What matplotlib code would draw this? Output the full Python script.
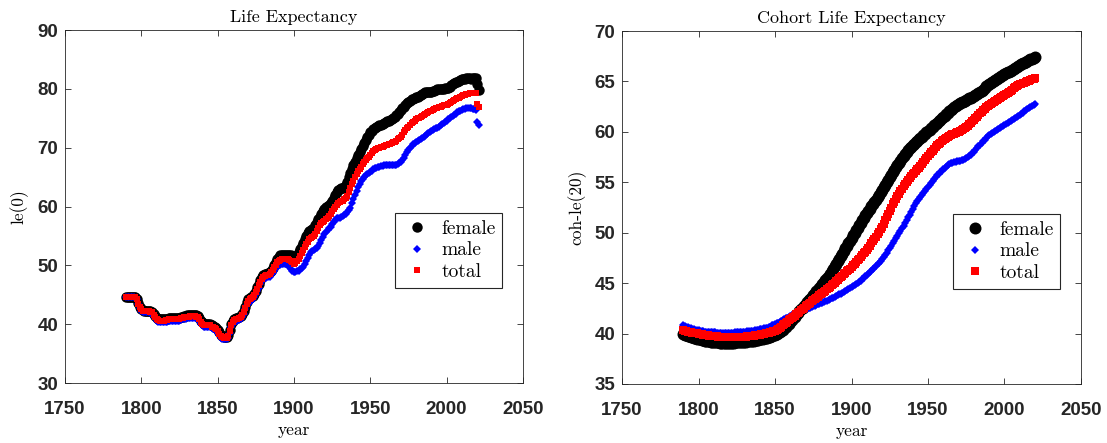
import numpy as np
import matplotlib
matplotlib.use("Agg")
import matplotlib.pyplot as plt

# period life expectancy at birth, yearly 1790-2021
years_le = np.arange(1790, 2022)
le_female = [
    44.7, 44.7, 44.7, 44.7, 44.7, 44.7, 44.6, 44.3, 43.6, 43.0,
    42.6, 42.4, 42.3, 42.3, 42.3, 42.3, 42.2, 42.1, 41.8, 41.4,
    41.0, 40.9, 40.8, 40.8, 40.8, 40.8, 40.9, 40.9, 41.0, 41.0,
    41.0, 41.0, 41.1, 41.1, 41.1, 41.1, 41.2, 41.3, 41.4, 41.4,
    41.5, 41.5, 41.6, 41.6, 41.6, 41.6, 41.5, 41.4, 41.0, 40.6,
    40.3, 40.1, 40.0, 40.0, 40.0, 40.0, 39.8, 39.7, 39.5, 39.3,
    39.0, 38.6, 38.2, 38.0, 37.9, 37.9, 37.9, 38.2, 39.0, 40.0,
    40.6, 40.9, 41.0, 41.1, 41.2, 41.4, 41.8, 42.3, 43.0, 43.8,
    44.3, 44.5, 44.6, 44.8, 45.2, 45.7, 46.3, 46.9, 47.5, 48.0,
    48.3, 48.5, 48.6, 48.7, 48.8, 49.1, 49.6, 50.1, 50.6, 51.1,
    51.5, 51.7, 51.8, 51.8, 51.8, 51.8, 51.8, 51.8, 51.7, 51.5,
    51.3, 51.4, 51.8, 52.3, 52.8, 53.3, 53.8, 54.4, 55.0, 55.5,
    55.8, 56.0, 56.2, 56.4, 56.8, 57.3, 57.8, 58.3, 58.8, 59.3,
    59.6, 59.9, 60.1, 60.3, 60.6, 61.0, 61.5, 62.0, 62.4, 62.8,
    63.0, 63.1, 63.2, 63.3, 63.6, 64.2, 65.0, 65.7, 66.4, 67.0,
    67.6, 68.2, 68.8, 69.3, 69.8, 70.3, 70.8, 71.3, 71.8, 72.2,
    72.6, 72.9, 73.2, 73.4, 73.5, 73.7, 73.8, 73.9, 74.0, 74.2,
    74.3, 74.5, 74.6, 74.7, 74.8, 75.0, 75.2, 75.5, 75.8, 76.1,
    76.4, 76.7, 77.0, 77.3, 77.6, 77.8, 78.0, 78.2, 78.3, 78.5,
    78.6, 78.7, 78.8, 79.0, 79.1, 79.3, 79.4, 79.5, 79.5, 79.5,
    79.5, 79.6, 79.7, 79.8, 79.9, 80.0, 80.0, 80.0, 80.0, 80.1,
    80.1, 80.2, 80.4, 80.6, 80.8, 81.0, 81.1, 81.2, 81.3, 81.5,
    81.6, 81.7, 81.7, 81.8, 81.8, 81.8, 81.7, 81.8, 81.9, 81.9,
    80.8, 79.8]
le_male = [
    44.6, 44.6, 44.6, 44.6, 44.6, 44.6, 44.5, 44.2, 43.4, 42.8,
    42.3, 42.1, 42.0, 42.0, 42.0, 42.0, 41.9, 41.8, 41.4, 41.0,
    40.5, 40.4, 40.3, 40.3, 40.3, 40.3, 40.4, 40.4, 40.5, 40.5,
    40.5, 40.5, 40.6, 40.6, 40.6, 40.6, 40.7, 40.8, 40.9, 40.9,
    41.0, 41.0, 41.1, 41.1, 41.1, 41.1, 41.0, 40.9, 40.5, 40.1,
    39.8, 39.6, 39.5, 39.5, 39.5, 39.5, 39.3, 39.2, 39.0, 38.8,
    38.5, 38.1, 37.7, 37.5, 37.4, 37.4, 37.4, 37.7, 38.5, 39.5,
    40.1, 40.4, 40.5, 40.6, 40.7, 40.9, 41.3, 41.8, 42.5, 43.2,
    43.6, 43.8, 44.0, 44.2, 44.6, 45.1, 45.6, 46.2, 46.8, 47.3,
    47.6, 47.8, 47.9, 48.0, 48.1, 48.4, 48.7, 49.1, 49.5, 49.8,
    50.0, 50.1, 50.2, 50.2, 50.2, 50.2, 50.0, 49.7, 49.3, 49.0,
    48.8, 48.8, 49.0, 49.1, 49.3, 49.5, 49.8, 50.3, 50.8, 51.3,
    51.8, 52.2, 52.5, 52.6, 52.8, 53.0, 53.3, 53.8, 54.3, 54.8,
    55.3, 55.7, 56.0, 56.3, 56.6, 57.0, 57.3, 57.7, 58.0, 58.0,
    58.0, 58.2, 58.4, 58.6, 58.8, 59.1, 59.4, 59.8, 60.6, 61.3,
    62.0, 62.7, 63.3, 63.8, 64.3, 64.7, 65.0, 65.3, 65.5, 65.7,
    65.9, 66.1, 66.3, 66.5, 66.6, 66.7, 66.8, 66.9, 66.9, 67.0,
    67.0, 67.0, 67.1, 67.1, 67.1, 67.1, 67.1, 67.1, 67.2, 67.4,
    67.6, 67.9, 68.3, 68.7, 69.2, 69.6, 70.0, 70.3, 70.6, 70.8,
    71.0, 71.2, 71.3, 71.5, 71.6, 71.8, 72.0, 72.3, 72.5, 72.7,
    72.8, 73.0, 73.1, 73.3, 73.4, 73.6, 73.8, 74.0, 74.2, 74.4,
    74.6, 74.8, 75.0, 75.2, 75.4, 75.6, 75.8, 76.0, 76.2, 76.3,
    76.4, 76.5, 76.6, 76.7, 76.8, 76.8, 76.7, 76.6, 76.5, 76.4,
    74.4, 73.9]
le_total = [
    44.7, 44.7, 44.7, 44.7, 44.7, 44.7, 44.6, 44.3, 43.5, 42.9,
    42.5, 42.3, 42.2, 42.2, 42.2, 42.2, 42.1, 42.0, 41.6, 41.2,
    40.8, 40.7, 40.6, 40.6, 40.6, 40.6, 40.7, 40.7, 40.8, 40.8,
    40.8, 40.8, 40.9, 40.9, 40.9, 40.9, 41.0, 41.1, 41.2, 41.2,
    41.3, 41.3, 41.4, 41.4, 41.4, 41.4, 41.3, 41.2, 40.8, 40.4,
    40.1, 39.9, 39.8, 39.8, 39.8, 39.8, 39.6, 39.5, 39.3, 39.1,
    38.8, 38.4, 38.0, 37.8, 37.7, 37.7, 37.7, 38.0, 38.8, 39.8,
    40.4, 40.7, 40.8, 40.9, 41.0, 41.2, 41.6, 42.1, 42.8, 43.5,
    44.0, 44.2, 44.4, 44.6, 45.0, 45.5, 46.0, 46.6, 47.2, 47.7,
    48.0, 48.2, 48.3, 48.4, 48.5, 48.8, 49.2, 49.7, 50.1, 50.5,
    50.8, 50.9, 51.0, 51.0, 51.0, 51.0, 51.0, 50.9, 50.8, 50.5,
    50.3, 50.4, 50.7, 51.1, 51.6, 52.1, 52.6, 53.1, 53.6, 54.0,
    54.4, 54.6, 54.8, 55.0, 55.4, 55.9, 56.4, 56.8, 57.2, 57.4,
    57.6, 57.8, 58.1, 58.4, 58.8, 59.2, 59.6, 60.0, 60.3, 60.6,
    60.8, 60.9, 61.0, 61.2, 61.4, 61.8, 62.4, 63.1, 63.8, 64.4,
    65.0, 65.5, 66.0, 66.4, 66.8, 67.2, 67.6, 67.9, 68.2, 68.5,
    68.8, 69.1, 69.4, 69.6, 69.7, 69.9, 70.0, 70.1, 70.2, 70.3,
    70.4, 70.5, 70.6, 70.7, 70.8, 70.9, 71.0, 71.2, 71.4, 71.6,
    71.9, 72.2, 72.6, 73.0, 73.3, 73.6, 73.9, 74.2, 74.4, 74.6,
    74.8, 75.0, 75.1, 75.3, 75.4, 75.6, 75.7, 75.9, 76.0, 76.2,
    76.3, 76.4, 76.5, 76.7, 76.8, 76.9, 77.0, 77.1, 77.2, 77.3,
    77.3, 77.5, 77.6, 77.8, 77.9, 78.1, 78.2, 78.4, 78.5, 78.7,
    78.8, 78.9, 79.0, 79.1, 79.2, 79.3, 79.3, 79.3, 79.3, 79.3,
    77.4, 77.0]

# cohort life expectancy at age 20, yearly 1790-2020
years_coh = np.arange(1790, 2021)
coh_female = [
    40.0, 39.9, 39.85, 39.8, 39.75, 39.7, 39.65, 39.6, 39.55, 39.5,
    39.5, 39.45, 39.4, 39.35, 39.3, 39.3, 39.25, 39.25, 39.2, 39.2,
    39.2, 39.15, 39.15, 39.15, 39.1, 39.1, 39.1, 39.1, 39.1, 39.1,
    39.1, 39.1, 39.1, 39.1, 39.15, 39.15, 39.15, 39.2, 39.2, 39.2,
    39.2, 39.2, 39.25, 39.25, 39.3, 39.3, 39.3, 39.35, 39.4, 39.4,
    39.45, 39.5, 39.5, 39.55, 39.6, 39.6, 39.65, 39.7, 39.8, 39.85,
    39.9, 40.0, 40.1, 40.2, 40.3, 40.4, 40.55, 40.7, 40.8, 40.95,
    41.1, 41.3, 41.5, 41.6, 41.8, 42.0, 42.2, 42.4, 42.55, 42.7,
    42.9, 43.1, 43.3, 43.4, 43.6, 43.8, 44.0, 44.2, 44.35, 44.5,
    44.7, 44.9, 45.1, 45.3, 45.5, 45.7, 45.9, 46.2, 46.4, 46.7,
    46.9, 47.2, 47.4, 47.7, 47.9, 48.2, 48.5, 48.7, 49.0, 49.2,
    49.5, 49.8, 50.0, 50.3, 50.5, 50.8, 51.0, 51.3, 51.5, 51.8,
    52.0, 52.2, 52.4, 52.6, 52.8, 53.0, 53.2, 53.5, 53.7, 54.0,
    54.2, 54.5, 54.7, 55.0, 55.2, 55.5, 55.7, 56.0, 56.2, 56.5,
    56.7, 56.9, 57.1, 57.4, 57.6, 57.8, 58.0, 58.2, 58.4, 58.5,
    58.7, 58.8, 59.0, 59.1, 59.3, 59.4, 59.5, 59.7, 59.8, 60.0,
    60.1, 60.2, 60.4, 60.5, 60.7, 60.8, 60.9, 61.1, 61.2, 61.4,
    61.5, 61.6, 61.8, 61.9, 62.1, 62.2, 62.3, 62.5, 62.6, 62.7,
    62.8, 62.9, 63.0, 63.0, 63.1, 63.2, 63.3, 63.4, 63.4, 63.5,
    63.6, 63.7, 63.8, 63.9, 64.0, 64.1, 64.2, 64.3, 64.5, 64.6,
    64.7, 64.8, 64.9, 65.0, 65.1, 65.2, 65.3, 65.4, 65.5, 65.6,
    65.7, 65.8, 65.9, 65.9, 66.0, 66.1, 66.2, 66.3, 66.4, 66.5,
    66.6, 66.7, 66.8, 66.8, 66.9, 67.0, 67.1, 67.2, 67.2, 67.3,
    67.4]
coh_male = [
    40.8, 40.75, 40.7, 40.65, 40.6, 40.55, 40.5, 40.45, 40.4, 40.4,
    40.35, 40.3, 40.3, 40.25, 40.2, 40.2, 40.2, 40.2, 40.15, 40.15,
    40.15, 40.15, 40.1, 40.1, 40.1, 40.1, 40.1, 40.1, 40.1, 40.1,
    40.1, 40.1, 40.1, 40.1, 40.15, 40.15, 40.15, 40.2, 40.2, 40.2,
    40.2, 40.2, 40.25, 40.25, 40.3, 40.3, 40.3, 40.35, 40.4, 40.4,
    40.45, 40.5, 40.5, 40.55, 40.6, 40.6, 40.65, 40.7, 40.8, 40.85,
    40.9, 41.0, 41.05, 41.15, 41.2, 41.3, 41.4, 41.5, 41.55, 41.65,
    41.7, 41.8, 41.9, 41.95, 42.05, 42.1, 42.15, 42.2, 42.3, 42.35,
    42.4, 42.45, 42.5, 42.55, 42.65, 42.7, 42.75, 42.8, 42.9, 42.95,
    43.0, 43.05, 43.1, 43.2, 43.25, 43.3, 43.4, 43.5, 43.55, 43.65,
    43.7, 43.8, 43.9, 43.95, 44.05, 44.1, 44.2, 44.3, 44.4, 44.5,
    44.6, 44.7, 44.8, 44.9, 45.0, 45.1, 45.2, 45.4, 45.5, 45.7,
    45.8, 45.9, 46.1, 46.2, 46.4, 46.5, 46.7, 46.9, 47.0, 47.2,
    47.4, 47.6, 47.8, 48.0, 48.3, 48.5, 48.7, 49.0, 49.2, 49.5,
    49.7, 50.0, 50.2, 50.5, 50.7, 51.0, 51.3, 51.6, 51.8, 52.1,
    52.4, 52.6, 52.9, 53.1, 53.3, 53.5, 53.7, 53.9, 54.1, 54.3,
    54.5, 54.7, 54.9, 55.1, 55.3, 55.5, 55.7, 55.8, 56.0, 56.1,
    56.3, 56.4, 56.5, 56.7, 56.8, 56.9, 56.9, 57.0, 57.0, 57.1,
    57.1, 57.1, 57.2, 57.2, 57.3, 57.4, 57.5, 57.6, 57.7, 57.9,
    58.0, 58.2, 58.4, 58.6, 58.7, 58.9, 59.1, 59.2, 59.4, 59.6,
    59.7, 59.8, 59.9, 60.0, 60.1, 60.2, 60.3, 60.4, 60.5, 60.6,
    60.7, 60.8, 60.9, 61.0, 61.1, 61.2, 61.3, 61.4, 61.5, 61.6,
    61.7, 61.8, 61.9, 62.1, 62.2, 62.3, 62.4, 62.5, 62.6, 62.7,
    62.8]
coh_total = [
    40.35, 40.3, 40.25, 40.2, 40.2, 40.15, 40.1, 40.1, 40.05, 40.05,
    40.0, 39.95, 39.95, 39.9, 39.9, 39.85, 39.85, 39.8, 39.8, 39.8,
    39.75, 39.75, 39.75, 39.7, 39.7, 39.7, 39.7, 39.65, 39.65, 39.65,
    39.65, 39.65, 39.65, 39.65, 39.65, 39.65, 39.7, 39.7, 39.7, 39.7,
    39.7, 39.7, 39.75, 39.75, 39.75, 39.8, 39.8, 39.85, 39.85, 39.9,
    39.9, 39.95, 39.95, 40.0, 40.05, 40.1, 40.1, 40.15, 40.2, 40.25,
    40.3, 40.4, 40.5, 40.6, 40.7, 40.8, 40.9, 41.05, 41.15, 41.3,
    41.4, 41.5, 41.65, 41.75, 41.9, 42.0, 42.15, 42.3, 42.4, 42.55,
    42.7, 42.8, 42.95, 43.05, 43.2, 43.3, 43.4, 43.55, 43.65, 43.8,
    43.9, 44.0, 44.15, 44.25, 44.4, 44.5, 44.65, 44.8, 44.9, 45.05,
    45.2, 45.35, 45.5, 45.6, 45.75, 45.9, 46.05, 46.2, 46.3, 46.45,
    46.6, 46.75, 46.9, 47.1, 47.25, 47.4, 47.6, 47.75, 47.95, 48.1,
    48.3, 48.5, 48.7, 48.95, 49.15, 49.4, 49.6, 49.85, 50.1, 50.35,
    50.6, 50.9, 51.25, 51.55, 51.9, 52.2, 52.5, 52.8, 53.05, 53.35,
    53.6, 53.85, 54.1, 54.35, 54.6, 54.8, 55.0, 55.2, 55.4, 55.6,
    55.8, 55.95, 56.1, 56.3, 56.45, 56.6, 56.8, 57.0, 57.2, 57.4,
    57.6, 57.8, 58.0, 58.1, 58.3, 58.5, 58.65, 58.8, 58.9, 59.05,
    59.2, 59.3, 59.4, 59.5, 59.6, 59.7, 59.75, 59.8, 59.9, 59.95,
    60.0, 60.1, 60.2, 60.3, 60.4, 60.5, 60.6, 60.75, 60.9, 61.05,
    61.2, 61.35, 61.5, 61.7, 61.85, 62.0, 62.15, 62.3, 62.45, 62.6,
    62.7, 62.8, 62.9, 63.0, 63.1, 63.2, 63.3, 63.4, 63.5, 63.6,
    63.7, 63.8, 63.9, 64.0, 64.1, 64.2, 64.3, 64.4, 64.5, 64.6,
    64.7, 64.75, 64.8, 64.85, 64.95, 65.0, 65.05, 65.1, 65.2, 65.25,
    65.3]

axcol = '#262626'
tickfont = {'family': 'Liberation Sans', 'weight': 'bold', 'size': 13.5}
serif = 'cmr10'

fig = plt.figure(figsize=(11.07, 4.43), dpi=100)
ax1 = fig.add_axes([0.0587, 0.1354, 0.4137, 0.7968])
ax2 = fig.add_axes([0.5619, 0.1332, 0.4146, 0.7968])


def draw(ax, yrs, f, m, t, title, ylabel, ylim, yticks, scale):
    ax.plot(yrs, f, 'o', color='k', markersize=7.5 * scale, markeredgewidth=0,
            label='female')
    ax.plot(yrs, m, 'D', color='b', markersize=3.6 * scale, markeredgewidth=0,
            label='male')
    ax.plot(yrs, t, 's', color='r', markersize=4.8 * scale, markeredgewidth=0,
            label='total')
    ax.set_xlim(1750, 2050)
    ax.set_ylim(*ylim)
    ax.set_xticks(np.arange(1750, 2051, 50))
    ax.set_yticks(yticks)
    ax.tick_params(direction='in', length=4, width=0.6, colors=axcol,
                   top=True, right=True, pad=5)
    ax.tick_params(axis='x', pad=13)
    for lab in ax.get_xticklabels() + ax.get_yticklabels():
        lab.set_fontfamily(tickfont['family'])
        lab.set_fontweight(tickfont['weight'])
        lab.set_fontsize(tickfont['size'])
    for sp in ax.spines.values():
        sp.set_color(axcol)
        sp.set_linewidth(0.6)
    ax.set_title(title, fontfamily=serif, fontsize=13, pad=6)
    ax.set_xlabel('year', fontfamily=serif, fontsize=12.5, labelpad=3)
    ax.set_ylabel(ylabel, fontfamily=serif, fontsize=12.5, labelpad=6)
    leg = ax.legend(loc='upper right', bbox_to_anchor=(0.955, 0.482),
                    borderaxespad=0, prop={'family': serif, 'size': 14},
                    fancybox=False, edgecolor=axcol, framealpha=1,
                    handlelength=1.6, handletextpad=0.45, labelspacing=0.2,
                    borderpad=0.35, numpoints=1)
    leg.get_frame().set_linewidth(0.8)


draw(ax1, years_le, le_female, le_male, le_total, 'Life Expectancy',
     'le(0)', (30, 90), np.arange(30, 91, 10), 1.0)
draw(ax2, years_coh, coh_female, coh_male, coh_total, 'Cohort Life Expectancy',
     'coh-le(20)', (35, 70), np.arange(35, 71, 5), 1.15)

fig.savefig('out.png', dpi=100)
